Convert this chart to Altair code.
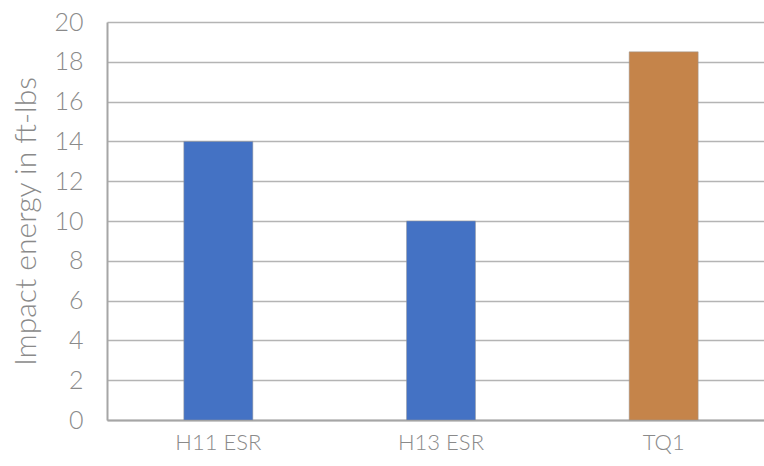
import altair as alt
import pandas as pd

categories = ["H11 ESR", "H13 ESR", "TQ1"]
values = [14, 10, 18.5]
colors = ["#4472C4", "#4472C4", "#C5844A"]

df = pd.DataFrame({"cat": categories, "val": values, "color": colors})

FONT = "Lato"
GRAY = "#8a8a8a"

chart = alt.Chart(df).mark_bar(
    width=alt.RelativeBandSize(0.31), stroke="#9a9a9a", strokeWidth=0.5
).encode(
    x=alt.X("cat:N", sort=categories,
            scale=alt.Scale(paddingInner=0, paddingOuter=0, range=[0, 668]),
            axis=alt.Axis(title=None, labelAngle=0, labelFontSize=22, labelColor=GRAY,
                          labelFont=FONT, labelFontWeight=300, ticks=False, labelPadding=12,
                          domainColor="#a6a6a6", domainWidth=2, grid=False)),
    y=alt.Y("val:Q", scale=alt.Scale(domain=[0, 20], nice=False),
            axis=alt.Axis(title="Impact energy in ft-lbs", values=list(range(0, 21, 2)),
                          titleFontSize=30, titleFont=FONT, titleFontWeight=300, titleColor=GRAY,
                          titlePadding=12,
                          labelFontSize=25, labelFont=FONT, labelFontWeight=300, labelColor=GRAY,
                          labelPadding=24, ticks=False, domainColor="#a6a6a6", domainWidth=2,
                          gridColor="#b4b4b4", gridWidth=1.5)),
    color=alt.Color("color:N", scale=None),
).properties(
    width=657, height=398,
    autosize=alt.AutoSizeParams(type="none"),
    padding={"left": 107, "top": 22, "right": 0, "bottom": 46},
).configure_view(stroke=None)

chart.save("out.html", embed_options={"renderer": "svg", "actions": False})
